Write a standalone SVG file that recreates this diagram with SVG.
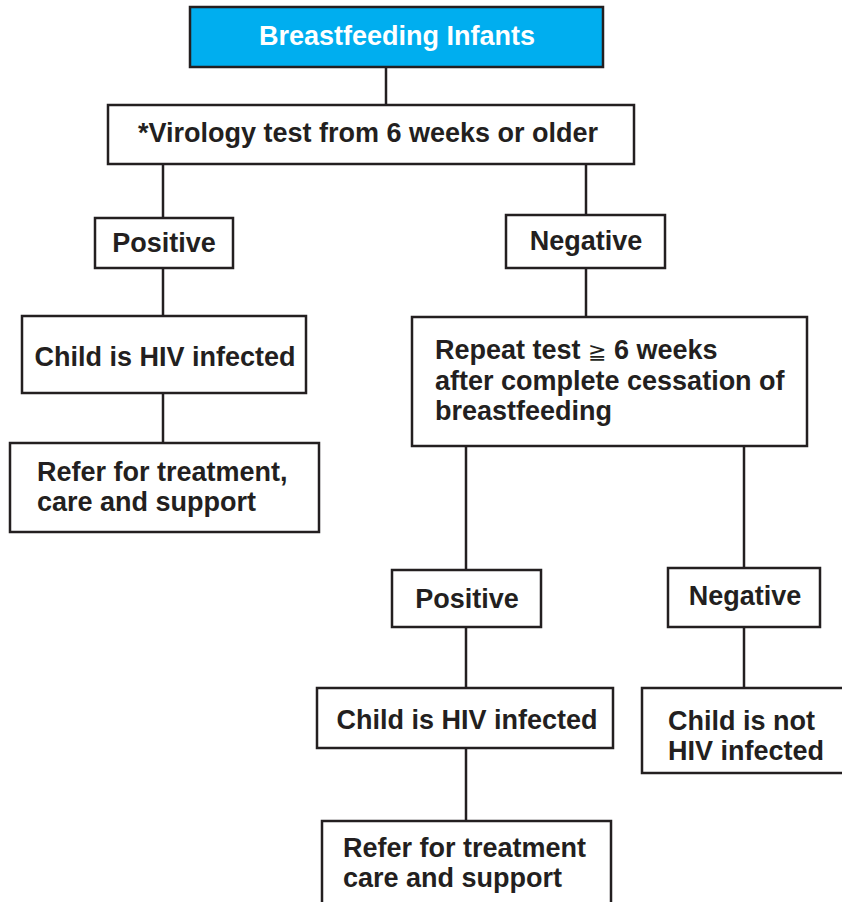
<svg xmlns="http://www.w3.org/2000/svg" width="842" height="902" viewBox="0 0 842 902">
  <style>
    .box { fill: #ffffff; stroke: #231f20; stroke-width: 2.5; }
    .head { fill: #00aeef; stroke: #231f20; stroke-width: 2.5; }
    .t { font-family: "Liberation Sans", Arial, sans-serif; font-weight: bold; font-size: 27px; fill: #231f20; }
    .c { text-anchor: middle; }
    .w { fill: #ffffff; }
    .links line { stroke: #231f20; stroke-width: 2.5; }
  </style>
  <rect width="842" height="902" fill="#ffffff"/>

  <g class="links">
    <line x1="386" y1="67" x2="386" y2="105"/>
    <line x1="163" y1="164" x2="163" y2="218"/>
    <line x1="586" y1="164" x2="586" y2="215"/>
    <line x1="163" y1="268" x2="163" y2="317"/>
    <line x1="163" y1="393" x2="163" y2="443"/>
    <line x1="586" y1="268" x2="586" y2="317"/>
    <line x1="466" y1="446" x2="466" y2="570"/>
    <line x1="744" y1="446" x2="744" y2="568"/>
    <line x1="466" y1="627" x2="466" y2="688"/>
    <line x1="744" y1="627" x2="744" y2="688"/>
    <line x1="466" y1="748" x2="466" y2="821"/>
  </g>

  <g id="breastfeeding-infants">
    <rect class="head" x="190" y="7" width="413" height="60"/>
    <text class="t c w" x="397" y="45">Breastfeeding Infants</text>
  </g>

  <g id="virology-test">
    <rect class="box" x="108" y="105" width="526" height="59"/>
    <text class="t c" x="368" y="142">*Virology test from 6 weeks or older</text>
  </g>

  <g id="positive-1">
    <rect class="box" x="95" y="218" width="138" height="50"/>
    <text class="t c" x="164" y="252">Positive</text>
  </g>

  <g id="negative-1">
    <rect class="box" x="506" y="215" width="159" height="53"/>
    <text class="t c" x="586" y="250">Negative</text>
  </g>

  <g id="infected-1">
    <rect class="box" x="22" y="316" width="284" height="77"/>
    <text class="t c" x="165" y="366">Child is HIV infected</text>
  </g>

  <g id="refer-1">
    <rect class="box" x="10" y="443" width="309" height="89"/>
    <text class="t" x="37" y="481">Refer for treatment,</text>
    <text class="t" x="37" y="511">care and support</text>
  </g>

  <g id="repeat-test">
    <rect class="box" x="412" y="317" width="395" height="129"/>
    <text class="t" x="435" y="359">Repeat test <tspan font-family="'DejaVu Sans', sans-serif" font-weight="normal" font-size="22px">≧</tspan> 6 weeks</text>
    <text class="t" x="435" y="390">after complete cessation of</text>
    <text class="t" x="435" y="420">breastfeeding</text>
  </g>

  <g id="positive-2">
    <rect class="box" x="392" y="570" width="149" height="57"/>
    <text class="t c" x="467" y="608">Positive</text>
  </g>

  <g id="negative-2">
    <rect class="box" x="668" y="568" width="152" height="59"/>
    <text class="t c" x="745" y="605">Negative</text>
  </g>

  <g id="infected-2">
    <rect class="box" x="317" y="688" width="296" height="60"/>
    <text class="t c" x="467" y="729">Child is HIV infected</text>
  </g>

  <g id="not-infected">
    <rect class="box" x="642" y="688" width="210" height="85"/>
    <text class="t" x="668" y="730">Child is not</text>
    <text class="t" x="668" y="760">HIV infected</text>
  </g>

  <g id="refer-2">
    <rect class="box" x="322" y="821" width="289" height="90"/>
    <text class="t" x="343" y="857">Refer for treatment</text>
    <text class="t" x="343" y="887">care and support</text>
  </g>
</svg>
